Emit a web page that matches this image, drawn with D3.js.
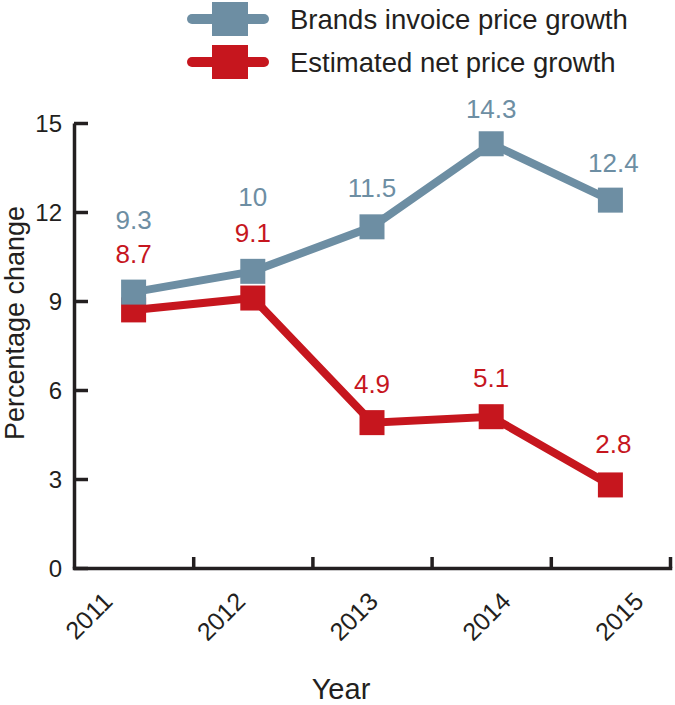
<!DOCTYPE html>
<html>
<head>
<meta charset="utf-8">
<script src="https://cdn.jsdelivr.net/npm/d3@7"></script>
<style>
  html, body { margin: 0; padding: 0; background: #fff; }
  svg { display: block; font-family: "Liberation Sans", Arial, Helvetica, sans-serif; }
</style>
</head>
<body>
<svg id="chart" width="675" height="705"></svg>
<script>
// ---- data ----
const years = ["2011", "2012", "2013", "2014", "2015"];
const invoiceGrowth = [9.3, 10, 11.5, 14.3, 12.4];
const netGrowth = [8.7, 9.1, 4.9, 5.1, 2.8];
const yTicks = [0, 3, 6, 9, 12, 15];
const seriesNames = ["Brands invoice price growth", "Estimated net price growth"];

// ---- styling / layout ----
const BLUE = "#6d8ea3", RED = "#c6161e", INK = "#231f20";
const svg = d3.select("#chart");
const plotLeft = 74, plotRight = 670, plotTop = 123, plotBottom = 568;

const x = d3.scaleBand().domain(years).range([plotLeft, plotRight]).paddingInner(0).paddingOuter(0);
const y = d3.scaleLinear().domain([0, 15]).range([plotBottom, plotTop]);
const cx = d => x(d) + x.bandwidth() / 2;

// y axis
const yAxis = d3.axisLeft(y).tickValues(yTicks).tickSizeInner(-14).tickSizeOuter(0).tickPadding(12);
const gy = svg.append("g").attr("transform", `translate(${plotLeft},0)`).call(yAxis);
gy.select(".domain").attr("stroke", INK).attr("stroke-width", 3.5);
gy.selectAll(".tick line").attr("stroke", INK).attr("stroke-width", 3.5);
gy.selectAll(".tick text").attr("fill", INK).style("font-size", "24px")
  .attr("dy", "0.36em").style("font-family", "'Liberation Sans', Arial, sans-serif");

// x axis (ticks at category boundaries)
const xb = d3.scaleLinear().domain([0, years.length]).range([plotLeft, plotRight]);
const xAxis = d3.axisBottom(xb).tickValues(d3.range(1, years.length + 1)).tickSizeInner(-11).tickSizeOuter(0).tickFormat("");
const gx = svg.append("g").attr("transform", `translate(0,${plotBottom})`).call(xAxis);
gx.select(".domain").attr("stroke", INK).attr("stroke-width", 3.5).attr("stroke-linecap", "square");
gx.selectAll(".tick line").attr("stroke", INK).attr("stroke-width", 3.5);

// rotated year labels
const xl = d3.scalePoint().domain(years).range([114, 645]);
svg.append("g").selectAll("text").data(years).join("text")
  .attr("transform", d => `translate(${xl(d)},603) rotate(-45)`)
  .attr("text-anchor", "end")
  .attr("fill", INK)
  .style("font-size", "25px")
  .text(d => d);

// axis titles
svg.append("text").attr("transform", "translate(24,323) rotate(-90)")
  .attr("text-anchor", "middle").attr("fill", INK).style("font-size", "27px")
  .text("Percentage change");
svg.append("text").attr("x", 341).attr("y", 699)
  .attr("text-anchor", "middle").attr("fill", INK).style("font-size", "29px")
  .text("Year");

// series
const series = [
  { name: seriesNames[1], values: netGrowth, color: RED, labelDy: [-47, -56, -30, -30, -32] },
  { name: seriesNames[0], values: invoiceGrowth, color: BLUE, labelDy: [-63, -65, -30, -26, -28] }
];
const line = d3.line().x((v, i) => cx(years[i])).y(v => y(v));
const SQ = 25;
series.forEach(s => {
  const g = svg.append("g");
  g.append("path").datum(s.values).attr("d", line)
    .attr("fill", "none").attr("stroke", s.color).attr("stroke-width", 8).attr("stroke-linejoin", "miter");
  g.selectAll("rect").data(s.values).join("rect")
    .attr("x", (v, i) => cx(years[i]) - SQ / 2)
    .attr("y", v => y(v) - SQ / 2)
    .attr("width", SQ).attr("height", SQ).attr("fill", s.color);
});
series.forEach(s => {
  svg.append("g").selectAll("text").data(s.values).join("text")
    .attr("x", (v, i) => cx(years[i]) + (i === 4 ? 3 : 0))
    .attr("y", (v, i) => y(v) + s.labelDy[i])
    .attr("text-anchor", "middle").attr("fill", s.color).style("font-size", "26px")
    .text(v => v);
});

// legend
const legend = [
  { name: seriesNames[0], color: BLUE, y: 19 },
  { name: seriesNames[1], color: RED, y: 62 }
];
const lg = svg.append("g");
legend.forEach(l => {
  lg.append("line").attr("x1", 192).attr("x2", 264).attr("y1", l.y).attr("y2", l.y)
    .attr("stroke", l.color).attr("stroke-width", 10).attr("stroke-linecap", "round");
  lg.append("rect").attr("x", 212).attr("y", l.y - 17).attr("width", 36).attr("height", 34).attr("fill", l.color);
  lg.append("text").attr("x", 290).attr("y", l.y + 10).attr("fill", INK).style("font-size", "27.5px").text(l.name);
});
</script>
</body>
</html>
